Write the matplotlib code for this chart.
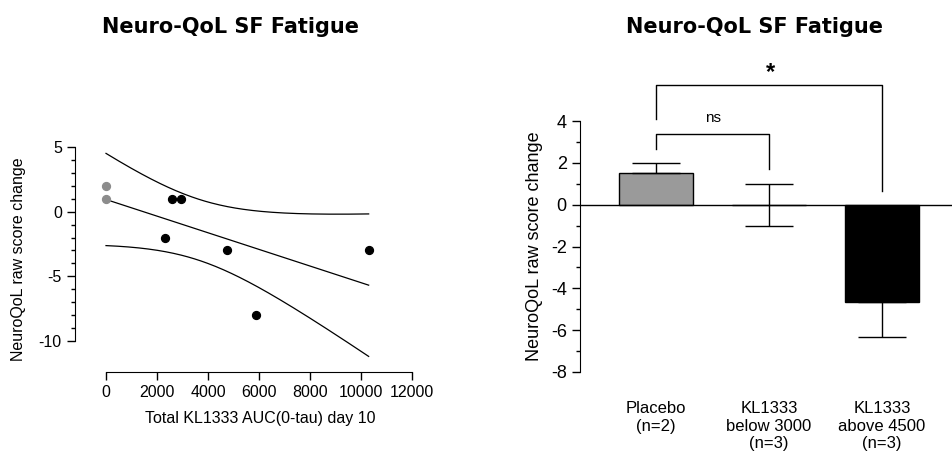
import numpy as np
import matplotlib
matplotlib.use("Agg")
import matplotlib.pyplot as plt
from matplotlib.ticker import FixedLocator

plt.rcParams['font.family'] = ['Liberation Sans', 'DejaVu Sans']
plt.rcParams['axes.unicode_minus'] = False

# --- left: individual patients, AUC vs score change ---
placebo_auc = [0, 0]
placebo_chg = [2, 1]
drug_auc = [2300, 2600, 2950, 4750, 5900, 10300]
drug_chg = [-2, 1, 1, -3, -8, -3]
T_CRIT = 2.447  # t(0.975, df=6)

# --- right: group means +/- SEM ---
groups = ['Placebo\n(n=2)', 'KL1333\nbelow 3000\n(n=3)', 'KL1333\nabove 4500\n(n=3)']
means = [1.5, 0.0, -4.67]
sems = [0.5, 1.0, 1.67]
bar_colors = ['#9a9a9a', 'white', 'black']

fig = plt.figure(figsize=(9.52, 4.55), dpi=100)

# linear fit with 95% confidence band
x_all = np.array(placebo_auc + drug_auc, dtype=float)
y_all = np.array(placebo_chg + drug_chg, dtype=float)
n = len(x_all)
slope, intercept = np.polyfit(x_all, y_all, 1)
resid = y_all - (slope * x_all + intercept)
s = np.sqrt(np.sum(resid ** 2) / (n - 2))
sxx = np.sum((x_all - x_all.mean()) ** 2)
xg = np.linspace(x_all.min(), x_all.max(), 200)
yg = slope * xg + intercept
half = T_CRIT * s * np.sqrt(1 / n + (xg - x_all.mean()) ** 2 / sxx)

ax1 = fig.add_axes([75 / 952, 83 / 455, 337 / 952, 225 / 455])
ax1.plot(xg, yg, color='black', lw=0.9)
ax1.plot(xg, yg + half, color='black', lw=0.9)
ax1.plot(xg, yg - half, color='black', lw=0.9)
ax1.scatter(placebo_auc, placebo_chg, s=32, color='#8c8c8c', zorder=3)
ax1.scatter(drug_auc, drug_chg, s=32, color='black', zorder=3)
ax1.set_xlim(-1216, 12000)
ax1.set_ylim(-12.4, 5)
ax1.spines[['top', 'right']].set_visible(False)
ax1.spines['left'].set_bounds(-10, 5)
ax1.spines['bottom'].set_bounds(0, 12000)
ax1.set_xticks(range(0, 12001, 2000))
ax1.set_yticks([5, 0, -5, -10])
ax1.yaxis.set_minor_locator(FixedLocator(range(-10, 6)))
ax1.tick_params(axis='both', which='major', labelsize=11.5, length=6, width=1)
ax1.tick_params(axis='y', which='minor', length=3, width=1)
ax1.set_xlabel('Total KL1333 AUC(0-tau) day 10', fontsize=11.5)
ax1.xaxis.set_label_coords(0.549, -0.175)
ax1.set_ylabel('NeuroQoL raw score change', fontsize=11.5)
ax1.yaxis.set_label_coords(-0.145, 0.5)

# bars
ax2 = fig.add_axes([580 / 952, 83 / 455, 372 / 952, 251 / 455])
pos = np.arange(len(groups))
ax2.bar(pos, means, width=0.66, color=bar_colors, edgecolor='black', linewidth=1, zorder=2)
# one-sided error bars away from zero, both sides when mean is zero
lower = [0 if m > 0 else e for m, e in zip(means, sems)]
upper = [0 if m < 0 else e for m, e in zip(means, sems)]
ax2.errorbar(pos, means, yerr=[lower, upper], fmt='none', ecolor='black',
             elinewidth=1, capsize=17, capthick=1, zorder=3)
ax2.axhline(0, color='black', lw=1, zorder=4)
ax2.set_xlim(-0.673, 2.619)
ax2.set_ylim(-8, 4)
ax2.spines[['top', 'right', 'bottom']].set_visible(False)
ax2.spines['left'].set_bounds(-8, 4)
ax2.set_yticks(range(-8, 5, 2))
ax2.yaxis.set_minor_locator(FixedLocator(range(-8, 5)))
ax2.tick_params(axis='y', which='major', labelsize=13, length=6, width=1)
ax2.tick_params(axis='y', which='minor', length=3, width=1)
ax2.set_xticks(pos)
ax2.set_xticklabels(groups, fontsize=12)
ax2.tick_params(axis='x', length=0, pad=21)
ax2.set_ylabel('NeuroQoL raw score change', fontsize=13)
ax2.yaxis.set_label_coords(-0.1, 0.5)

# significance brackets
bk = dict(color='black', lw=1, clip_on=False)
ax2.plot([0, 0, 1, 1], [2.68, 3.4, 3.4, 1.72], **bk)
ax2.text(0.5, 4.16, 'ns', ha='center', va='center', fontsize=11)
ax2.plot([0, 0, 2, 2], [4.11, 5.74, 5.74, 0.67], **bk)
ax2.text(1.01, 6.3, '*', ha='center', va='center', fontsize=17, fontweight='bold')

for xc in (231, 755):
    fig.text(xc / 952, 1 - 27 / 455, 'Neuro-QoL SF Fatigue', ha='center', va='center',
             fontsize=15, fontweight='bold', family='DejaVu Sans')

fig.savefig('out.png', dpi=100)
